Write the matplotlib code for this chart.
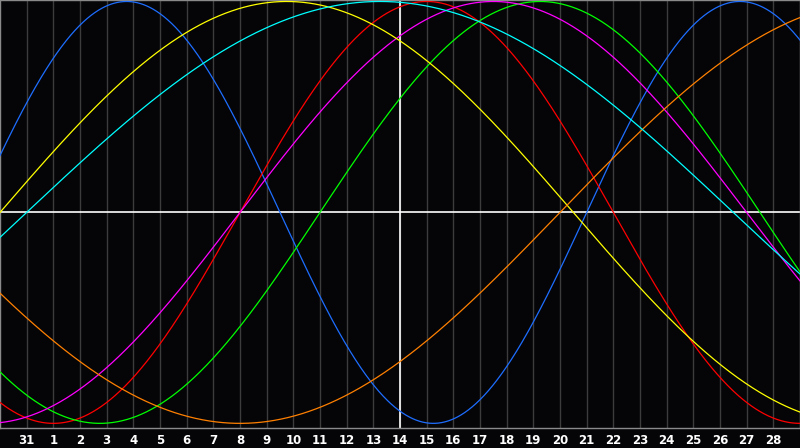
import numpy as np
import matplotlib
matplotlib.use("Agg")
import matplotlib.pyplot as plt

# day labels at grid positions 1..29
day_labels = ["31"] + [str(d) for d in range(1, 29)]
# biorhythm cycles: period (days) and upward zero-crossing position (grid units)
names   = ["physical", "emotional", "intellectual", "intuitive", "aesthetic", "awareness", "spiritual"]
periods = [23, 28, 33, 38, 43, 48, 53]
phases  = [-1.0, 9.0, 12.0, 9.0, 0.0, 21.0, 1.0]
colors  = ["#1e6eff", "#ff0000", "#00ff00", "#ff00ff", "#ffff00", "#ff8000", "#00ffff"]

bg = "#050508"
fig = plt.figure(figsize=(8, 4.48), dpi=100, facecolor=bg)
ax = fig.add_axes([0, 20/448, 1, 428/448])
ax.set_facecolor(bg)
ax.set_xlim(0, 30)
ax.set_ylim(-1.022, 1.007)

for k in range(1, 30):
    ax.axvline(k, color="#3c3c3c", lw=1.0, zorder=1)

x = np.linspace(0, 30, 1500)
for P, d0, c in zip(periods, phases, colors):
    ax.plot(x, np.sin(2*np.pi*(x - d0)/P), color=c, lw=0.9, zorder=3)

ax.axhline(0, color="white", lw=1.2, zorder=2)
ax.axvline(15, color="white", lw=1.2, zorder=2)

for s in ax.spines.values():
    s.set_color("#8a8a8a")
    s.set_linewidth(1.0)

ax.set_xticks(range(1, 30))
ax.set_xticklabels(day_labels)
ax.tick_params(axis="x", length=0, pad=4, colors="white", labelsize=8.5)
for t in ax.get_xticklabels():
    t.set_fontweight("bold")
ax.set_yticks([])

fig.savefig("out.png", dpi=100, facecolor=bg)
